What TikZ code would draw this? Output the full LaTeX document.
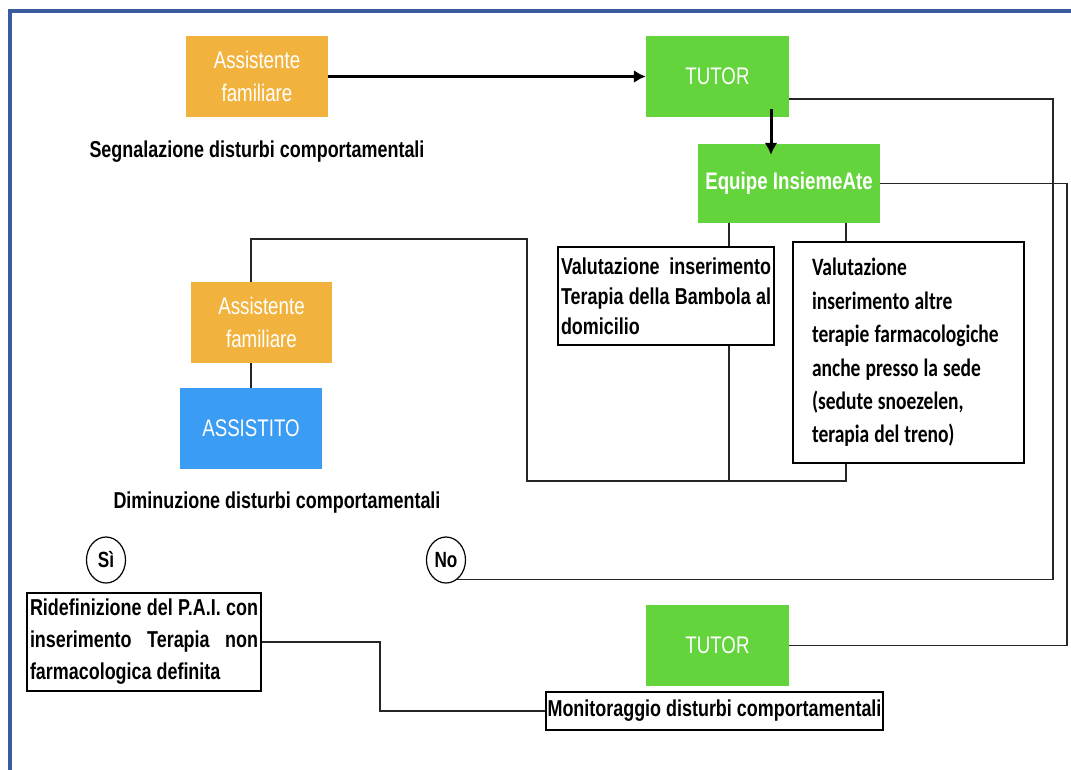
\documentclass[tikz,border=0pt]{standalone}
\usepackage{fontspec}
\setmainfont{Liberation Sans}[FakeStretch=0.78]
\newfontfamily\calib{Carlito}[FakeStretch=0.78]
\usetikzlibrary{arrows.meta,shapes.geometric}

\definecolor{arancio}{RGB}{242,179,62}
\definecolor{verde}{RGB}{99,212,60}
\definecolor{azzurro}{RGB}{58,156,242}
\definecolor{cornice}{RGB}{58,92,156}

\tikzset{
  blocco/.style={rectangle, inner sep=0pt, text=white, align=center,
    minimum width=142pt, minimum height=81pt, font=\fontsize{24}{33}\selectfont},
  nota/.style={rectangle, draw, fill=white, line width=1.3pt, inner sep=3pt,
    font=\bfseries\fontsize{23}{31}\selectfont},
  titolo/.style={font=\bfseries\fontsize{23}{28}\selectfont},
  esito/.style={ellipse, draw, line width=1.2pt, minimum width=39pt,
    minimum height=46pt, inner sep=0pt, font=\bfseries\fontsize{22}{26}\selectfont},
  freccia/.style={line width=3pt, -{Latex[length=12pt,width=13pt]}},
  linea/.style={line width=1.4pt, black!85}
}

\begin{document}
\begin{tikzpicture}[x=1pt,y=-1pt]
  \fill[white] (0,0) rectangle (1071,769);
  \useasboundingbox (0,0) rectangle (1071,769);
  \draw[cornice, line width=4pt] (1080,11) -| (10,780);

  % blocchi colorati
  \node[blocco, fill=arancio] (af1) at (257,76.5) {Assistente\\familiare};
  \node[blocco, fill=verde, minimum width=143pt] (tutor1) at (717.5,76.5) {TUTOR};
  \node[blocco, fill=verde, minimum width=182pt, minimum height=79pt, font=\bfseries\fontsize{24}{33}\selectfont] (equipe) at (789,183.5) {Equipe InsiemeAte};
  \node[blocco, fill=arancio, minimum width=141pt] (af2) at (261.5,322.5) {Assistente\\familiare};
  \node[blocco, fill=azzurro] (assistito) at (251,428.5) {ASSISTITO};
  \node[blocco, fill=verde, minimum width=143pt] (tutor2) at (717.5,645.5) {TUTOR};

  % testi
  \node[titolo] (segn) at (257,152) {Segnalazione disturbi comportamentali};
  \node[titolo] (dimin) at (277,503) {Diminuzione disturbi comportamentali};
  \node[esito] (si) at (106,560) {Sì};
  \node[esito] (no) at (446,560) {No};

  % riquadri
  \node[nota, text width=210pt, align=justify, minimum height=98pt,
    font=\bfseries\fontsize{23}{30}\selectfont] (val1) at (666,296)
    {Valutazione inserimento\linebreak Terapia della Bambola al\linebreak domicilio};
  \node[nota, text width=193pt, inner xsep=19pt, align=left, minimum height=221pt,
    font=\calib\bfseries\fontsize{25}{33.4}\selectfont] (val2) at (908.5,352.5)
    {\spaceskip=5pt\relax Valutazione\\inserimento altre\\terapie farmacologiche\\anche presso la sede\\(sedute snoezelen,\\terapia del treno)};
  \node[nota, text width=228pt, align=justify, minimum height=98pt,
    font=\bfseries\fontsize{23}{32}\selectfont] (ridef) at (144,642)
    {Ridefinizione del P.A.I. con\linebreak inserimento Terapia non\linebreak farmacologica definita};
  \node[nota, minimum width=337pt, minimum height=38pt, inner sep=1pt] (monit) at (714.5,711)
    {Monitoraggio disturbi comportamentali};

  % punti di appoggio
  \coordinate (dxA) at (1053,0);
  \coordinate (dxB) at (1067,0);
  \coordinate (anello) at (527,481);
  \coordinate (cima) at (527,239);
  \coordinate (gomito) at (380,0);
  \coordinate (eq1) at ([xshift=-60pt]equipe.south);
  \coordinate (eq2) at ([xshift=57pt]equipe.south);

  % collegamenti
  \draw[freccia] (af1.east) -- (tutor1.west);
  \draw[freccia] ([xshift=53.5pt,yshift=8pt]tutor1.south) -- ([xshift=-18pt,yshift=-11pt]equipe.north);
  \draw[linea] ([yshift=-22.5pt]tutor1.east) -| (dxA |- no.-60) -- (no.-60);
  \draw[linea] (equipe.east) -| (dxB |- tutor2.east) -- (tutor2.east);
  \draw[linea] (eq1) -- (eq1 |- val1.north);
  \draw[linea] (eq2) -- (eq2 |- val2.north);
  \draw[linea] (eq1 |- val1.south) -- (eq1 |- anello);
  \draw[linea] (eq2 |- val2.south) |- (anello) -- (cima) -| (assistito.north |- af2.north);
  \draw[linea] (assistito.north |- af2.south) -- (assistito.north);
  \draw[linea] (ridef.east) -| (gomito |- monit.west) -- (monit.west);
\end{tikzpicture}
\end{document}
